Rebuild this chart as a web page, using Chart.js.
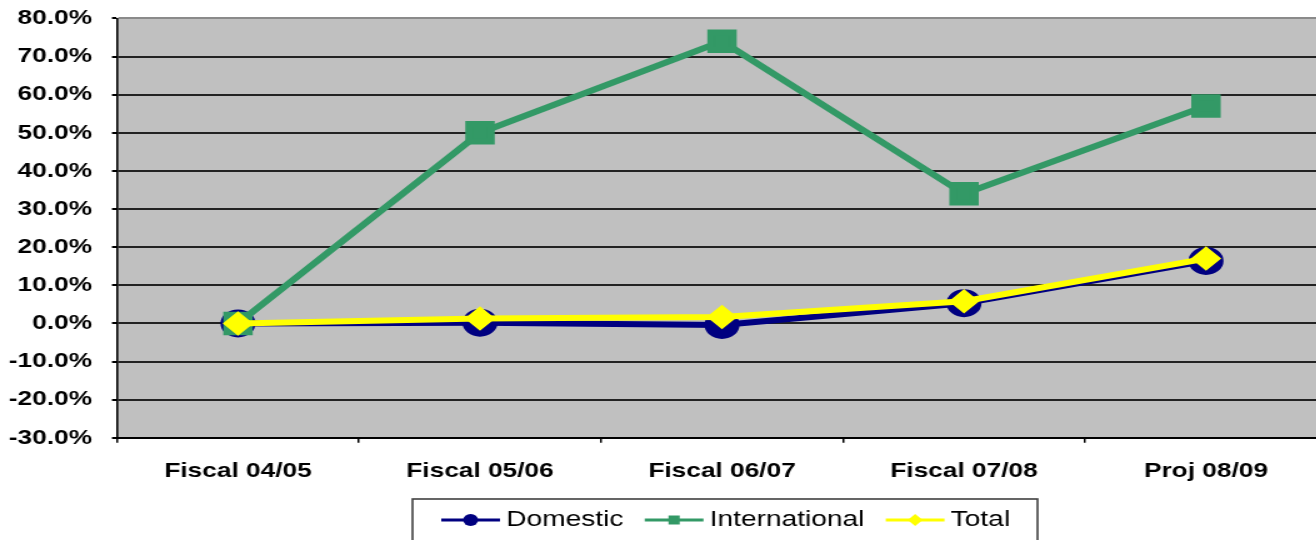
<!DOCTYPE html>
<html>
<head>
<meta charset="utf-8">
<title>Growth by segment</title>
<script src="https://cdn.jsdelivr.net/npm/chart.js@4/dist/chart.umd.min.js"></script>
<style>
  html, body { margin: 0; padding: 0; background: #fff; overflow: hidden; }
  #wrap { width: 1316px; height: 540px; overflow: hidden; }
  canvas { display: block; }
</style>
</head>
<body>
<div id="wrap">
  <!-- drawn at 1080 wide, shown 1.25x wider; the right edge runs past the window -->
  <canvas id="growthChart" width="1080" height="540" style="width:1350px;height:540px"></canvas>
</div>
<script>
const categories = ['Fiscal 04/05', 'Fiscal 05/06', 'Fiscal 06/07', 'Fiscal 07/08', 'Proj 08/09'];
const domestic = [0.0, 0.2, -0.4, 5.3, 16.4];
const international = [0.0, 50.0, 74.0, 34.0, 57.0];
const total = [0.0, 1.3, 1.7, 5.8, 17.0];
const yTicks = [-30, -20, -10, 0, 10, 20, 30, 40, 50, 60, 70, 80];

const FONT = "'Liberation Sans', Arial, Helvetica, sans-serif";

// grey plot background
const plotBackground = {
    id: 'plotBackground',
    beforeDraw(chart) {
        const { ctx, chartArea: a } = chart;
        ctx.save();
        ctx.fillStyle = '#C0C0C0';
        ctx.fillRect(a.left, a.top, a.right - a.left, a.bottom - a.top);
        ctx.restore();
    }
};

function marker(ctx, style, x, y, r, color) {
    ctx.fillStyle = color;
    ctx.beginPath();
    if (style === 'circle') {
        ctx.arc(x, y, r, 0, Math.PI * 2);
    } else if (style === 'rect') {
        ctx.rect(x - r * 0.75, y - r * 0.75, r * 1.5, r * 1.5);
    } else {
        ctx.moveTo(x - r, y);
        ctx.lineTo(x, y - r);
        ctx.lineTo(x + r, y);
        ctx.lineTo(x, y + r);
        ctx.closePath();
    }
    ctx.fill();
}

// boxed legend under the axis, line + marker for each series
const boxedLegend = {
    id: 'boxedLegend',
    afterDraw(chart) {
        const ctx = chart.ctx;
        const y = 520;
        ctx.save();
        ctx.strokeStyle = '#404040';
        ctx.lineWidth = 1.6;
        ctx.strokeRect(330, 499, 500, 48);
        ctx.font = '22.5px ' + FONT;
        ctx.textBaseline = 'middle';
        let x = 353;
        chart.data.datasets.forEach(ds => {
            ctx.strokeStyle = ds.borderColor;
            ctx.lineWidth = 3;
            ctx.beginPath();
            ctx.moveTo(x, y);
            ctx.lineTo(x + 47, y);
            ctx.stroke();
            marker(ctx, ds.pointStyle, x + 23.5, y, 6, ds.borderColor);
            ctx.fillStyle = '#000';
            ctx.fillText(ds.label, x + 52, y);
            x += 52 + ctx.measureText(ds.label).width + 17;
        });
        ctx.restore();
    }
};

new Chart(document.getElementById('growthChart'), {
    type: 'line',
    data: {
        labels: categories,
        datasets: [
            {
                label: 'Domestic',
                data: domestic,
                borderColor: '#000080',
                backgroundColor: '#000080',
                borderWidth: 6,
                pointStyle: 'circle',
                pointRadius: 11,
                order: 3
            },
            {
                label: 'International',
                data: international,
                borderColor: '#339966',
                backgroundColor: '#339966',
                borderWidth: 6,
                pointStyle: 'rect',
                pointRadius: 12.4,
                order: 2
            },
            {
                label: 'Total',
                data: total,
                borderColor: '#FFFF00',
                backgroundColor: '#FFFF00',
                borderWidth: 6,
                pointStyle: 'rectRot',
                pointRadius: 8,
                order: 1
            }
        ]
    },
    options: {
        responsive: false,
        devicePixelRatio: 1,
        animation: false,
        layout: { padding: { left: 7, right: 0, top: 15, bottom: 40 } },
        elements: {
            line: { tension: 0 },
            point: { borderWidth: 1, hoverRadius: 11 }
        },
        plugins: {
            legend: { display: false },
            tooltip: { enabled: false }
        },
        scales: {
            x: {
                offset: true,
                afterFit: axis => { axis.paddingLeft = 0; axis.paddingRight = 0; },
                grid: {
                    offset: true,
                    drawOnChartArea: false,
                    color: '#000',
                    lineWidth: 1.5,
                    tickLength: 5
                },
                border: { color: '#000', width: 2 },
                ticks: {
                    color: '#000',
                    padding: 16,
                    maxRotation: 0,
                    font: { family: FONT, size: 21, weight: 'bold' }
                }
            },
            y: {
                min: -30,
                max: 80,
                afterBuildTicks: axis => { axis.ticks = yTicks.map(v => ({ value: v })); },
                afterFit: axis => {
                    axis.width = 86.6;
                    axis.paddingTop = 0;
                    axis.paddingBottom = 0;
                },
                grid: {
                    color: ctx => (ctx.tick && ctx.tick.value === 80 ? '#8a8a8a' : '#222'),
                    tickColor: '#000',
                    lineWidth: 2,
                    tickLength: 4
                },
                border: { color: '#000', width: 1.6 },
                ticks: {
                    color: '#000',
                    padding: 16,
                    callback: v => v.toFixed(1) + '%',
                    font: { family: FONT, size: 21, weight: 'bold' }
                }
            }
        }
    },
    plugins: [plotBackground, boxedLegend]
});
</script>
</body>
</html>
